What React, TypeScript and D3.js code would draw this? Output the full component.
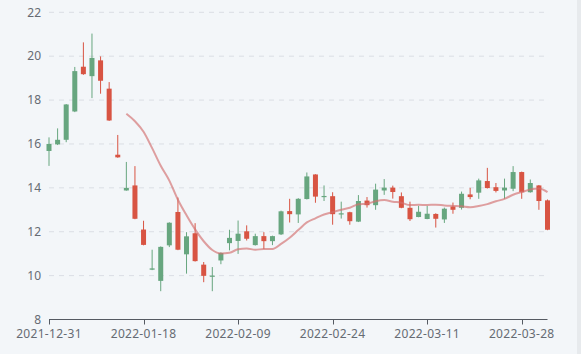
import React from "react";
import * as d3 from "d3";

const dates = [
  "2021-12-31",
  "2022-01-04", "2022-01-05", "2022-01-06", "2022-01-07",
  "2022-01-10", "2022-01-11", "2022-01-12", "2022-01-13", "2022-01-14",
  "2022-01-17", "2022-01-18", "2022-01-19", "2022-01-20", "2022-01-21",
  "2022-01-24", "2022-01-25", "2022-01-26", "2022-01-27", "2022-01-28",
  "2022-02-07", "2022-02-08", "2022-02-09", "2022-02-10", "2022-02-11",
  "2022-02-14", "2022-02-15", "2022-02-16", "2022-02-17", "2022-02-18",
  "2022-02-21", "2022-02-22", "2022-02-23", "2022-02-24", "2022-02-25",
  "2022-02-28", "2022-03-01", "2022-03-02", "2022-03-03", "2022-03-04",
  "2022-03-07", "2022-03-08", "2022-03-09", "2022-03-10", "2022-03-11",
  "2022-03-14", "2022-03-15", "2022-03-16", "2022-03-17", "2022-03-18",
  "2022-03-21", "2022-03-22", "2022-03-23", "2022-03-24", "2022-03-25",
  "2022-03-28", "2022-03-29", "2022-03-30", "2022-03-31",
];

const opens = [15.68, 15.98, 16.19, 17.48, 19.52, 19.09, 19.81, 18.52, 15.51, 13.88,
  14.11, 12.10, 10.27, 9.76, 11.38, 12.90, 10.97, 11.93, 10.50, 9.98,
  10.69, 11.48, 11.58, 12.02, 11.39, 11.80, 11.57, 11.88, 12.94, 12.79,
  13.49, 14.61, 13.60, 13.62, 12.80, 12.89, 12.46, 13.42, 13.21, 13.88,
  14.01, 13.62, 13.09, 12.67, 12.58, 12.81, 12.56, 13.15, 13.09, 13.70,
  13.78, 14.31, 14.03, 13.88, 13.96, 14.72, 13.80, 14.11, 13.43];
const closes = [16.00, 16.19, 17.80, 19.32, 19.18, 19.92, 18.88, 17.07, 15.39, 14.00,
  12.59, 11.40, 10.33, 11.31, 12.41, 11.18, 11.79, 10.66, 9.99, 10.00,
  11.03, 11.72, 11.91, 11.68, 11.80, 11.57, 11.80, 12.93, 12.80, 13.50,
  14.52, 13.60, 13.63, 12.80, 12.84, 12.48, 13.40, 13.21, 13.92, 14.01,
  13.81, 13.09, 12.57, 12.91, 12.82, 12.59, 13.05, 13.00, 13.73, 13.58,
  14.34, 13.99, 13.86, 14.01, 14.72, 13.80, 14.22, 13.40, 12.09];
const lows = [15.00, 15.95, 16.08, 17.45, 19.15, 18.09, 18.29, 17.05, 15.37, 13.87,
  12.57, 11.38, 10.25, 9.29, 11.30, 11.16, 10.09, 10.64, 9.70, 9.29,
  10.52, 11.15, 10.99, 11.60, 11.37, 11.21, 11.39, 11.85, 12.42, 12.40,
  13.47, 13.32, 13.40, 12.32, 12.60, 12.32, 12.44, 13.10, 13.00, 13.68,
  13.51, 13.07, 12.49, 12.66, 12.57, 12.19, 12.40, 12.82, 13.01, 13.48,
  13.50, 13.97, 13.79, 13.50, 13.85, 13.50, 13.78, 13.00, 12.07];
const highs = [16.30, 16.71, 17.82, 19.51, 20.63, 21.03, 19.99, 18.82, 16.41, 15.18,
  14.99, 12.50, 11.18, 11.33, 12.43, 13.56, 11.98, 12.39, 10.62, 10.39,
  11.06, 12.09, 12.51, 12.29, 11.91, 11.98, 11.82, 12.96, 13.50, 13.53,
  14.70, 14.62, 14.11, 13.80, 13.37, 12.91, 13.67, 13.58, 14.19, 14.40,
  14.10, 13.79, 13.37, 13.18, 13.18, 12.84, 13.10, 13.33, 13.83, 14.00,
  14.42, 14.91, 14.22, 14.42, 14.99, 14.74, 14.38, 14.13, 13.47];

const yTicks = [8, 10, 12, 14, 16, 18, 20, 22];
const xLabelEvery = 11;
const maPeriod = 10;

const W = 581;
const H = 354;
const left = 49;
const right = 547.5;
const top = 12.3;
const bottom = 319.5;

const UP = "#67a67f";
const DOWN = "#d85443";
const FONT = "'Noto Sans', sans-serif";

export default function App() {
  const x = d3.scalePoint<string>().domain(dates).range([left, right]);
  const y = d3.scaleLinear().domain([8, 22]).range([bottom, top]);

  const ma: { d: string; v: number }[] = [];
  for (let i = maPeriod - 1; i < closes.length; i++) {
    const v = d3.mean(closes.slice(i - maPeriod + 1, i + 1)) as number;
    ma.push({ d: dates[i], v });
  }
  const line = d3
    .line<{ d: string; v: number }>()
    .x((p) => x(p.d) as number)
    .y((p) => y(p.v))
    .curve(d3.curveMonotoneX);

  const bodyW = 5;

  return (
    <div style={{ position: "absolute", left: 0, top: 0 }}>
      <svg width={W} height={H} style={{ display: "block" }}>
        <rect x={0} y={0} width={W} height={H} fill="#f3f6f9" />
        <rect x={577} y={0} width={4} height={H} fill="#e7eaed" />
        {yTicks.map((t) => (
          <g key={t}>
            {t !== 8 && (
              <line
                x1={left}
                x2={right}
                y1={y(t)}
                y2={y(t)}
                stroke="#dadee4"
                strokeDasharray="5 5"
              />
            )}
            <text
              x={41}
              y={y(t) + 4.3}
              textAnchor="end"
              fontFamily={FONT}
              fontSize={12}
              fill="#666b73"
            >
              {t}
            </text>
          </g>
        ))}
        <line x1={left} x2={right} y1={bottom} y2={bottom} stroke="#555a62" strokeWidth={1} />
        {dates.map((d, i) =>
          i % xLabelEvery === 0 ? (
            <g key={d}>
              <line
                x1={Math.round(x(d) as number) + 0.5}
                x2={Math.round(x(d) as number) + 0.5}
                y1={bottom}
                y2={bottom + 5}
                stroke="#555a62"
              />
              <text
                x={x(d) as number}
                y={337.5}
                textAnchor="middle"
                fontFamily={FONT}
                fontSize={12}
                letterSpacing={0.3}
                fill="#666b73"
              >
                {d}
              </text>
            </g>
          ) : null
        )}
        {dates.map((d, i) => {
          const cx = x(d) as number;
          const o = opens[i];
          const c = closes[i];
          const up = c >= o;
          const col = up ? UP : DOWN;
          const yTop = y(Math.max(o, c));
          const yBot = y(Math.min(o, c));
          return (
            <g key={d}>
              <line
                x1={cx}
                x2={cx}
                y1={y(highs[i])}
                y2={y(lows[i])}
                stroke={col}
                strokeWidth={1}
              />
              <rect
                x={cx - bodyW / 2}
                y={yTop}
                width={bodyW}
                height={Math.max(1.2, yBot - yTop)}
                fill={col}
              />
            </g>
          );
        })}
        <path
          d={line(ma) || ""}
          fill="none"
          stroke="#d26e6e"
          strokeOpacity={0.65}
          strokeWidth={2}
        />
      </svg>
    </div>
  );
}
